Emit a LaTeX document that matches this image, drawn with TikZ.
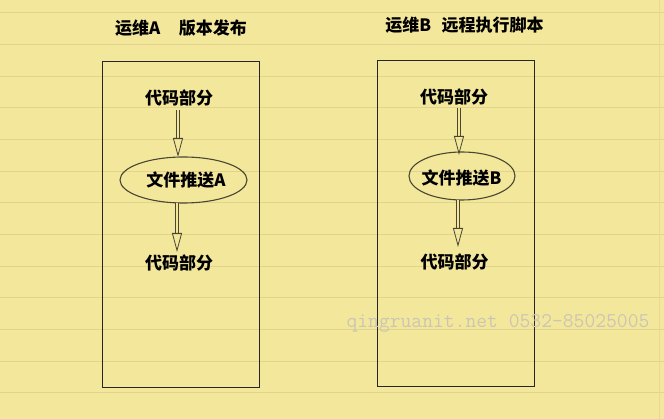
\documentclass[tikz,border=0pt]{standalone}
\usepackage{fontspec}
\newfontfamily\cjk{Noto Sans CJK SC}
\usetikzlibrary{shapes.geometric,arrows.meta}
\definecolor{paper}{HTML}{F3E79C}
\definecolor{rule}{HTML}{E2D38C}
\definecolor{ink}{HTML}{4A4632}
\definecolor{wm}{HTML}{CBC6B4}
\tikzset{
  lbl/.style={font=\cjk\bfseries\fontsize{17}{19}\selectfont, inner sep=1pt},
  ttl/.style={font=\cjk\bfseries\fontsize{17}{19}\selectfont, inner sep=1pt},
  oval/.style={ellipse, draw=ink, line width=1.1pt, inner sep=0pt},
  frame/.style={draw=black!85, line width=0.9pt, minimum width=157pt, minimum height=326pt, inner sep=0pt},
  hollow/.style={draw=ink, line width=0.8pt, double=paper, double distance=2.8pt,
     -{Triangle[open, length=19pt, width=10pt, line width=0.8pt]}},
}
\begin{document}
\begin{tikzpicture}[x=1pt,y=-1pt]
\useasboundingbox (0,0) rectangle (664,419);
\fill[paper] (0,0) rectangle (664,419);
\foreach \y in {13,45,77,108,140,172,203,235,267,298,330,362,393}
  \draw[rule, line width=1pt] (0,\y) -- (664,\y);
\draw[rule!70!paper, line width=1pt] (659,0) -- (659,419);

\node[ttl] (ta) at (181,28) {运维A\hspace{1.1em}版本发布};
\node[ttl] (tb) at (464.5,25) {运维B\hspace{0.6em}远程执行脚本};

\node[frame] (fa) at (180.5,224) {};
\node[frame] (fb) at (456,223) {};

\node[lbl] (a1) at (179,98) {代码部分};
\node[oval, minimum width=127pt, minimum height=46pt] (ea) at (183.5,180) {};
\node[lbl] at (186,180) {文件推送A};
\node[lbl] (a3) at (179,263) {代码部分};

\node[lbl] (b1) at (454,97) {代码部分};
\node[oval, minimum width=106pt, minimum height=48pt] (eb) at (462,176) {};
\node[lbl] at (461.5,178) {文件推送B};
\node[lbl] (b3) at (454.5,262) {代码部分};

\draw[hollow] (178,110) -- (178,157);
\draw[hollow] (177,203) -- (177,252);
\draw[hollow] (459,108) -- (459,155);
\draw[hollow] (458,200) -- (458,247);

\node[font=\ttfamily\fontsize{21}{23}\selectfont, text=wm, inner sep=0pt] (wmk) at (498,323) {qingruanit.net 0532-85025005};
\end{tikzpicture}
\end{document}
